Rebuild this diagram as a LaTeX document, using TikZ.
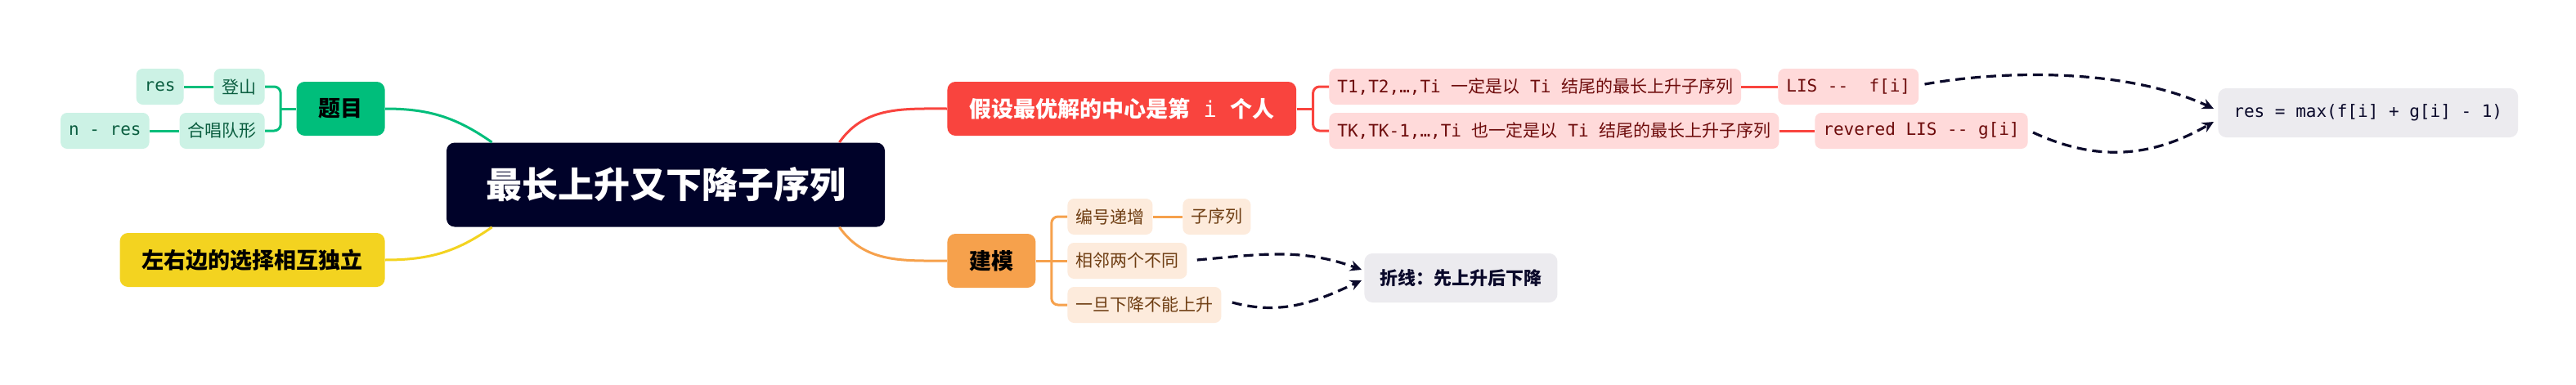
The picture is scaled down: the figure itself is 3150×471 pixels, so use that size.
\documentclass[tikz,border=0pt]{standalone}
\usepackage{fontspec}
\setmainfont{Noto Sans CJK SC}
\setmonofont{DejaVu Sans Mono}
\usetikzlibrary{arrows.meta,calc}
\definecolor{mapnavy}{HTML}{000229}
\definecolor{topicgreen}{HTML}{00BE7B}
\definecolor{leafgreen}{HTML}{CCF2E5}
\definecolor{inkgreen}{HTML}{0B5E40}
\definecolor{topicyellow}{HTML}{F3D320}
\definecolor{topicred}{HTML}{F9443E}
\definecolor{leafred}{HTML}{FFDADA}
\definecolor{inkred}{HTML}{6E0C0C}
\definecolor{topicorange}{HTML}{F6A14C}
\definecolor{leaforange}{HTML}{FDEBDC}
\definecolor{inkorange}{HTML}{6E3D12}
\definecolor{notegray}{HTML}{ECEBEF}
\definecolor{noteink}{HTML}{0B0A2B}
\begin{document}
\begin{tikzpicture}[x=0.5pt,y=0.5pt,
    root/.style={fill=mapnavy, text=white, rounded corners=5pt, inner xsep=24pt, minimum height=51.5pt, font=\fontsize{22}{26}\selectfont\bfseries},
    topic/.style={rounded corners=5pt, inner xsep=13.5pt, minimum height=33pt, font=\fontsize{13.5}{16}\selectfont\bfseries},
    leaf/.style={rounded corners=4pt, inner xsep=5pt, minimum height=22pt, font=\fontsize{10.5}{13}\selectfont},
    note/.style={fill=notegray, text=noteink, rounded corners=5pt, inner xsep=9.5pt, minimum height=30pt, font=\fontsize{10.5}{13}\selectfont},
    branch/.style={line width=1.5pt},
    relation/.style={draw=noteink, line width=1.6pt, dash pattern=on 6pt off 3.5pt, -{Stealth[length=7pt,width=6.5pt]}}]
    \fill[white] (0,0) rectangle (3150,-471);
    \node[root] (root) at (814,-226) {最长上升又下降子序列};
    % left side
    \node[topic, fill=topicgreen, anchor=east] (timu) at (471,-133) {题目};
    \node[leaf, fill=leafgreen, text=inkgreen, anchor=east] (dengshan) at (324,-106) {登山};
    \node[leaf, fill=leafgreen, text=inkgreen, anchor=east] (res1) at (225,-106) {\texttt{res}};
    \node[leaf, fill=leafgreen, text=inkgreen, anchor=east] (hechang) at (324,-160) {合唱队形};
    \node[leaf, fill=leafgreen, text=inkgreen, anchor=east] (nres) at (183,-160) {\texttt{n - res}};
    \node[topic, fill=topicyellow, anchor=east] (zuoyou) at (471,-318) {左右边的选择相互独立};
    % right side
    \node[topic, fill=topicred, text=white, anchor=west] (jiashe) at (1158,-133) {假设最优解的中心是第\texttt{\mdseries{} i }个人};
    \node[leaf, fill=leafred, text=inkred, anchor=west] (t1) at (1625,-106) {\texttt{T1,T2,…,Ti }一定是以\texttt{ Ti }结尾的最长上升子序列};
    \node[leaf, fill=leafred, text=inkred, anchor=west] (lisf) at (2174,-106) {\texttt{LIS -{}-\ \ f[i]}};
    \node[leaf, fill=leafred, text=inkred, anchor=west] (tk) at (1625,-160) {\texttt{TK,TK-1,…,Ti }也一定是以\texttt{ Ti }结尾的最长上升子序列};
    \node[leaf, fill=leafred, text=inkred, anchor=west] (lisg) at (2219,-160) {\texttt{revered LIS -{}- g[i]}};
    \node[note, anchor=west] (resmax) at (2712,-138) {\texttt{res = max(f[i] + g[i] - 1)}};
    \node[topic, fill=topicorange, anchor=west] (jianmo) at (1158,-319) {建模};
    \node[leaf, fill=leaforange, text=inkorange, anchor=west] (bianhao) at (1305,-265) {编号递增};
    \node[leaf, fill=leaforange, text=inkorange, anchor=west] (zixulie) at (1446,-265) {子序列};
    \node[leaf, fill=leaforange, text=inkorange, anchor=west] (xianglin) at (1305,-319) {相邻两个不同};
    \node[leaf, fill=leaforange, text=inkorange, anchor=west] (yidan) at (1305,-373) {一旦下降不能上升};
    \node[note, font=\fontsize{11}{14}\selectfont\bfseries, anchor=west] (zhexian) at (1668,-340) {折线：先上升后下降};
    % branches
    \draw[branch, topicgreen] (timu.east) to[out=0,in=145] ($(root.north west)+(56,0)$);
    \draw[branch, topicyellow] (zuoyou.east) to[out=0,in=-145] ($(root.south west)+(56,0)$);
    \draw[branch, topicred] ($(root.north east)+(-56,0)$) to[out=55,in=180] (jiashe.west);
    \draw[branch, topicorange] ($(root.south east)+(-56,0)$) to[out=-55,in=180] (jianmo.west);
    \coordinate (timuB) at ($(timu.west)+(-19,0)$);
    \draw[branch, topicgreen] (timu.west) -- (timuB);
    \draw[branch, topicgreen, rounded corners=4pt] (dengshan.east) -| (timuB) |- (hechang.east);
    \draw[branch, topicgreen] (dengshan.west) -- (res1.east);
    \draw[branch, topicgreen] (hechang.west) -- (nres.east);
    \coordinate (jiasheB) at ($(jiashe.east)+(20,0)$);
    \draw[branch, topicred] (jiashe.east) -- (jiasheB);
    \draw[branch, topicred, rounded corners=4pt] (t1.west) -| (jiasheB) |- (tk.west);
    \draw[branch, topicred] (t1.east) -- (lisf.west);
    \draw[branch, topicred] (tk.east) -- (lisg.west);
    \coordinate (jianmoB) at ($(jianmo.east)+(19,0)$);
    \draw[branch, topicorange] (jianmo.east) -- (xianglin.west);
    \draw[branch, topicorange, rounded corners=4pt] (bianhao.west) -| (jianmoB) |- (yidan.west);
    \draw[branch, topicorange] (bianhao.east) -- (zixulie.west);
    % relations
    \draw[relation] ($(lisf.east)+(7,3)$) to[out=10,in=155,looseness=0.8] ($(resmax.west)+(-5,5)$);
    \draw[relation] ($(lisg.east)+(6,-2)$) to[out=-25,in=-150] ($(resmax.west)+(-5,-11)$);
    \draw[relation] ($(xianglin.east)+(12,1)$) to[out=5,in=160] ($(zhexian.west)+(-3,10)$);
    \draw[relation] ($(yidan.east)+(13,3)$) to[out=-15,in=-155] ($(zhexian.west)+(-3,-3)$);
\end{tikzpicture}
\end{document}
